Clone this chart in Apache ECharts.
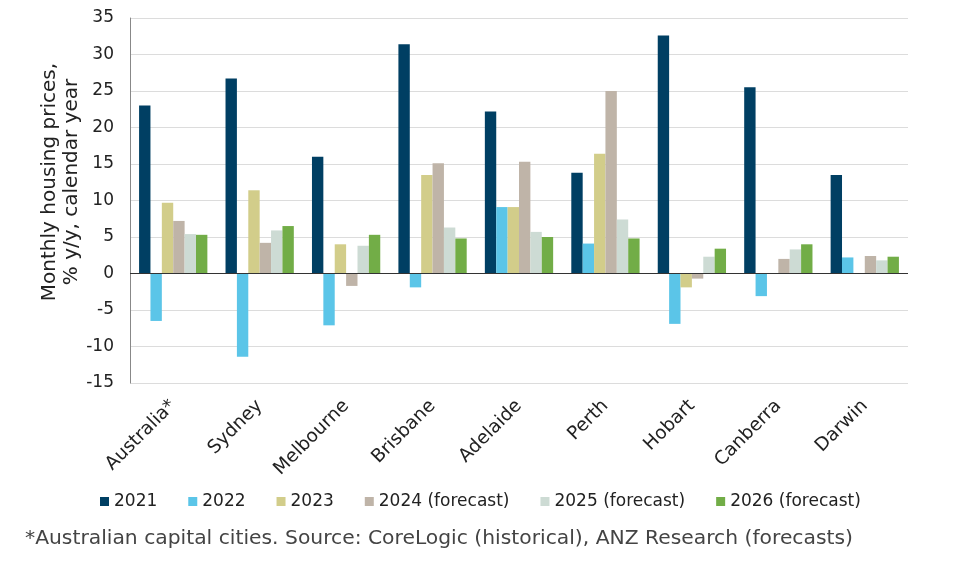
<!DOCTYPE html>
<html>
<head>
<meta charset="utf-8">
<script src="https://cdn.jsdelivr.net/npm/echarts@6/dist/echarts.min.js"></script>
<style>html,body{margin:0;padding:0;background:#fff;}#c{width:963px;height:582px;}</style>
</head>
<body>
<div id="c"></div>
<script>
const categories = ['Australia*','Sydney','Melbourne','Brisbane','Adelaide','Perth','Hobart','Canberra','Darwin'];
const seriesNames = ['2021','2022','2023','2024 (forecast)','2025 (forecast)','2026 (forecast)'];
const v2021 = [23.0, 26.7, 16.0, 31.4, 22.2, 13.8, 32.6, 25.5, 13.5];
const v2022 = [-6.5, -11.4, -7.1, -1.9, 9.1, 4.1, -6.9, -3.1, 2.2];
const v2023 = [9.7, 11.4, 4.0, 13.5, 9.1, 16.4, -1.9, 0.0, 0.0];
const v2024 = [7.2, 4.2, -1.7, 15.1, 15.3, 25.0, -0.7, 2.0, 2.4];
const v2025 = [5.4, 5.9, 3.8, 6.3, 5.7, 7.4, 2.3, 3.3, 1.8];
const v2026 = [5.3, 6.5, 5.3, 4.8, 5.0, 4.8, 3.4, 4.0, 2.3];
const yTicks = {min: -15, max: 35, interval: 5};
const colors = ['#003f63','#5bc5e8','#d2cd8a','#bfb4a8','#cddbd4','#72ad47'];
const allValues = [v2021, v2022, v2023, v2024, v2025, v2026];
const yAxisTitle = 'Monthly housing prices,\n% y/y, calendar year';
const footnote = '*Australian capital cities. Source: CoreLogic (historical), ANZ Research (forecasts)';

const font = 'DejaVu Sans, Verdana, sans-serif';
const series = allValues.map((vals, i) => {
  const s = {
    name: seriesNames[i],
    type: 'bar',
    data: vals,
    barGap: '0%',
    barCategoryGap: '21%',
    itemStyle: {color: colors[i]}
  };
  if (i === 0) {
    s.markLine = {
      silent: true,
      symbol: 'none',
      label: {show: false},
      lineStyle: {color: '#333', width: 1, type: 'solid'},
      data: [{yAxis: 0}],
      animation: false
    };
  }
  return s;
});

const chart = echarts.init(document.getElementById('c'));
chart.setOption({
  animation: false,
  color: colors,
  grid: {left: 130, right: 55, top: 18, bottom: 199},
  legend: {
    top: 488, left: 95,
    icon: 'rect', itemWidth: 9, itemHeight: 9, itemGap: 31,
    textStyle: {fontFamily: font, fontSize: 17, color: '#222'},
    data: seriesNames
  },
  title: {
    text: footnote,
    left: 20, top: 524,
    textStyle: {fontFamily: font, fontSize: 20.3, fontWeight: 'normal', color: '#444'}
  },
  graphic: [{
    type: 'text',
    x: 61, y: 182,
    rotation: Math.PI / 2,
    style: {
      text: yAxisTitle,
      fontFamily: font, fontSize: 20, lineHeight: 22,
      fill: '#222',
      textAlign: 'center', textVerticalAlign: 'middle'
    }
  }],
  xAxis: {
    type: 'category',
    data: categories,
    axisLine: {show: false, onZero: false},
    axisTick: {show: false},
    axisLabel: {rotate: 45, fontFamily: font, fontSize: 18.5, color: '#222', margin: 20, interval: 0}
  },
  yAxis: {
    type: 'value',
    min: yTicks.min, max: yTicks.max, interval: yTicks.interval,
    axisLine: {show: true, lineStyle: {color: '#888'}},
    axisTick: {show: false},
    axisLabel: {fontFamily: font, fontSize: 17, color: '#222', margin: 16},
    splitLine: {lineStyle: {color: '#dcdcdc'}}
  },
  series: series
});
</script>
</body>
</html>
